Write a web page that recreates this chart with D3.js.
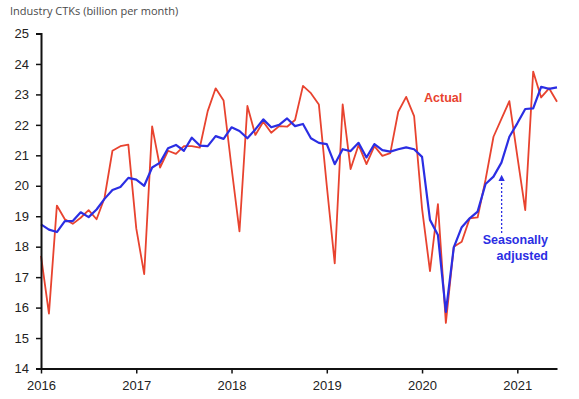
<!DOCTYPE html>
<html>
<head>
<meta charset="utf-8">
<script src="https://cdn.jsdelivr.net/npm/d3@7"></script>
<style>
  html, body { margin: 0; padding: 0; background: #fff; }
  svg { display: block; }
</style>
</head>
<body>
<svg id="chart" width="579" height="399"></svg>
<script>
// ---- Data (monthly, Jan 2016 – Jun 2021) ----
const startYear = 2016;
const actual = [
  17.7, 15.8, 19.35, 18.9, 18.75, 18.95, 19.2, 18.9, 19.6, 21.15, 21.3, 21.35,
  18.6, 17.1, 21.95, 20.6, 21.15, 21.05, 21.3, 21.3, 21.25, 22.45, 23.2, 22.8,
  20.6, 18.5, 22.62, 21.67, 22.1, 21.74, 21.96, 21.94, 22.16, 23.28, 23.04, 22.67,
  20.0, 17.45, 22.67, 20.55, 21.34, 20.71, 21.3, 20.98, 21.07, 22.43, 22.92, 22.29,
  19.25, 17.2, 19.4, 15.5, 18.0, 18.16, 18.93, 18.96, 20.2, 21.61, 22.2, 22.78,
  20.97, 19.2, 23.75, 22.9, 23.2, 22.76
];
const seasonallyAdjusted = [
  18.73, 18.56, 18.48, 18.84, 18.84, 19.13, 18.97, 19.22, 19.57, 19.86, 19.96, 20.26,
  20.2, 20.0, 20.6, 20.76, 21.23, 21.34, 21.15, 21.58, 21.32, 21.3, 21.63, 21.54,
  21.92, 21.8, 21.56, 21.85, 22.18, 21.92, 22.0, 22.21, 21.96, 22.03, 21.56, 21.41,
  21.37, 20.71, 21.2, 21.14, 21.41, 20.93, 21.37, 21.17, 21.12, 21.2, 21.26, 21.2,
  20.95, 18.88, 18.38, 15.86, 17.98, 18.64, 18.93, 19.15, 20.06, 20.3, 20.76, 21.61,
  22.05, 22.52, 22.54, 23.25, 23.18, 23.23
];
const yTicks = [14, 15, 16, 17, 18, 19, 20, 21, 22, 23, 24, 25];
const xTickYears = ["2016", "2017", "2018", "2019", "2020", "2021"];
const titleText = "Industry CTKs (billion per month)";
const labelActual = "Actual";
const labelSA = ["Seasonally", "adjusted"];

// ---- Layout ----
const svg = d3.select("#chart");
const mLeft = 41, mRight = 557, mTop = 33.5, mBottom = 368.5;
const redColor = "#e8432f", blueColor = "#2b2ee3";

const x = d3.scaleLinear().domain([0, actual.length - 1]).range([mLeft, mRight]);
const y = d3.scaleLinear().domain([14, 25]).range([mBottom, mTop]);

// Title
svg.append("text")
  .attr("x", 10).attr("y", 15)
  .attr("font-family", "'Open Sans', sans-serif")
  .attr("font-size", 11)
  .attr("fill", "#4a4a4a")
  .text(titleText);

// Lines
const line = d3.line().x((d, i) => x(i)).y(d => y(d));

svg.append("path")
  .datum(actual)
  .attr("fill", "none")
  .attr("stroke", redColor)
  .attr("stroke-width", 1.8)
  .attr("stroke-linejoin", "round")
  .attr("d", line);

svg.append("path")
  .datum(seasonallyAdjusted)
  .attr("fill", "none")
  .attr("stroke", blueColor)
  .attr("stroke-width", 2.2)
  .attr("stroke-linejoin", "round")
  .attr("d", line);

// Y axis
const yAxis = d3.axisLeft(y).tickValues(yTicks).tickSize(5).tickPadding(7).tickFormat(d3.format("d"));
const gy = svg.append("g").attr("transform", `translate(${mLeft},0)`).call(yAxis);
gy.select(".domain").attr("stroke", "#111").attr("stroke-width", 2);
gy.selectAll(".tick line").attr("stroke", "#111").attr("stroke-width", 1.5);
gy.selectAll(".tick text")
  .attr("font-family", "'Liberation Sans', Arial, sans-serif")
  .attr("font-size", 13).attr("fill", "#222");

// X axis
const xAxis = d3.axisBottom(x)
  .tickValues(xTickYears.map((d, i) => i * 12))
  .tickFormat((d, i) => xTickYears[i])
  .tickSize(5).tickPadding(7).tickSizeOuter(0);
const gx = svg.append("g").attr("transform", `translate(0,${mBottom})`).call(xAxis);
gx.select(".domain").attr("stroke", "#111").attr("stroke-width", 2);
gx.selectAll(".tick line").attr("stroke", "#111").attr("stroke-width", 1.5);
gx.selectAll(".tick text")
  .attr("font-family", "'Liberation Sans', Arial, sans-serif")
  .attr("font-size", 13).attr("fill", "#222");

// Annotations
svg.append("text")
  .attr("x", 424).attr("y", 102)
  .attr("font-family", "'Liberation Sans', Arial, sans-serif")
  .attr("font-weight", "bold").attr("font-size", 12.5)
  .attr("fill", redColor)
  .text(labelActual);

const saText = svg.append("text")
  .attr("text-anchor", "end")
  .attr("font-family", "'Liberation Sans', Arial, sans-serif")
  .attr("font-weight", "bold").attr("font-size", 12.5)
  .attr("fill", blueColor);
saText.append("tspan").attr("x", 548).attr("y", 244).text(labelSA[0]);
saText.append("tspan").attr("x", 548).attr("y", 260).text(labelSA[1]);

// Dotted arrow
svg.append("defs").append("marker")
  .attr("id", "arrow")
  .attr("viewBox", "0 0 10 10")
  .attr("refX", 5).attr("refY", 5)
  .attr("markerWidth", 5).attr("markerHeight", 5)
  .attr("orient", "auto")
  .append("path").attr("d", "M0,0 L10,5 L0,10 z").attr("fill", blueColor);

const arrowX = x(58) + 0.2;
svg.append("line")
  .attr("x1", arrowX).attr("x2", arrowX)
  .attr("y1", 233).attr("y2", 178)
  .attr("stroke", blueColor).attr("stroke-width", 1.3)
  .attr("stroke-dasharray", "2,2")
  .attr("marker-end", "url(#arrow)");
</script>
</body>
</html>
